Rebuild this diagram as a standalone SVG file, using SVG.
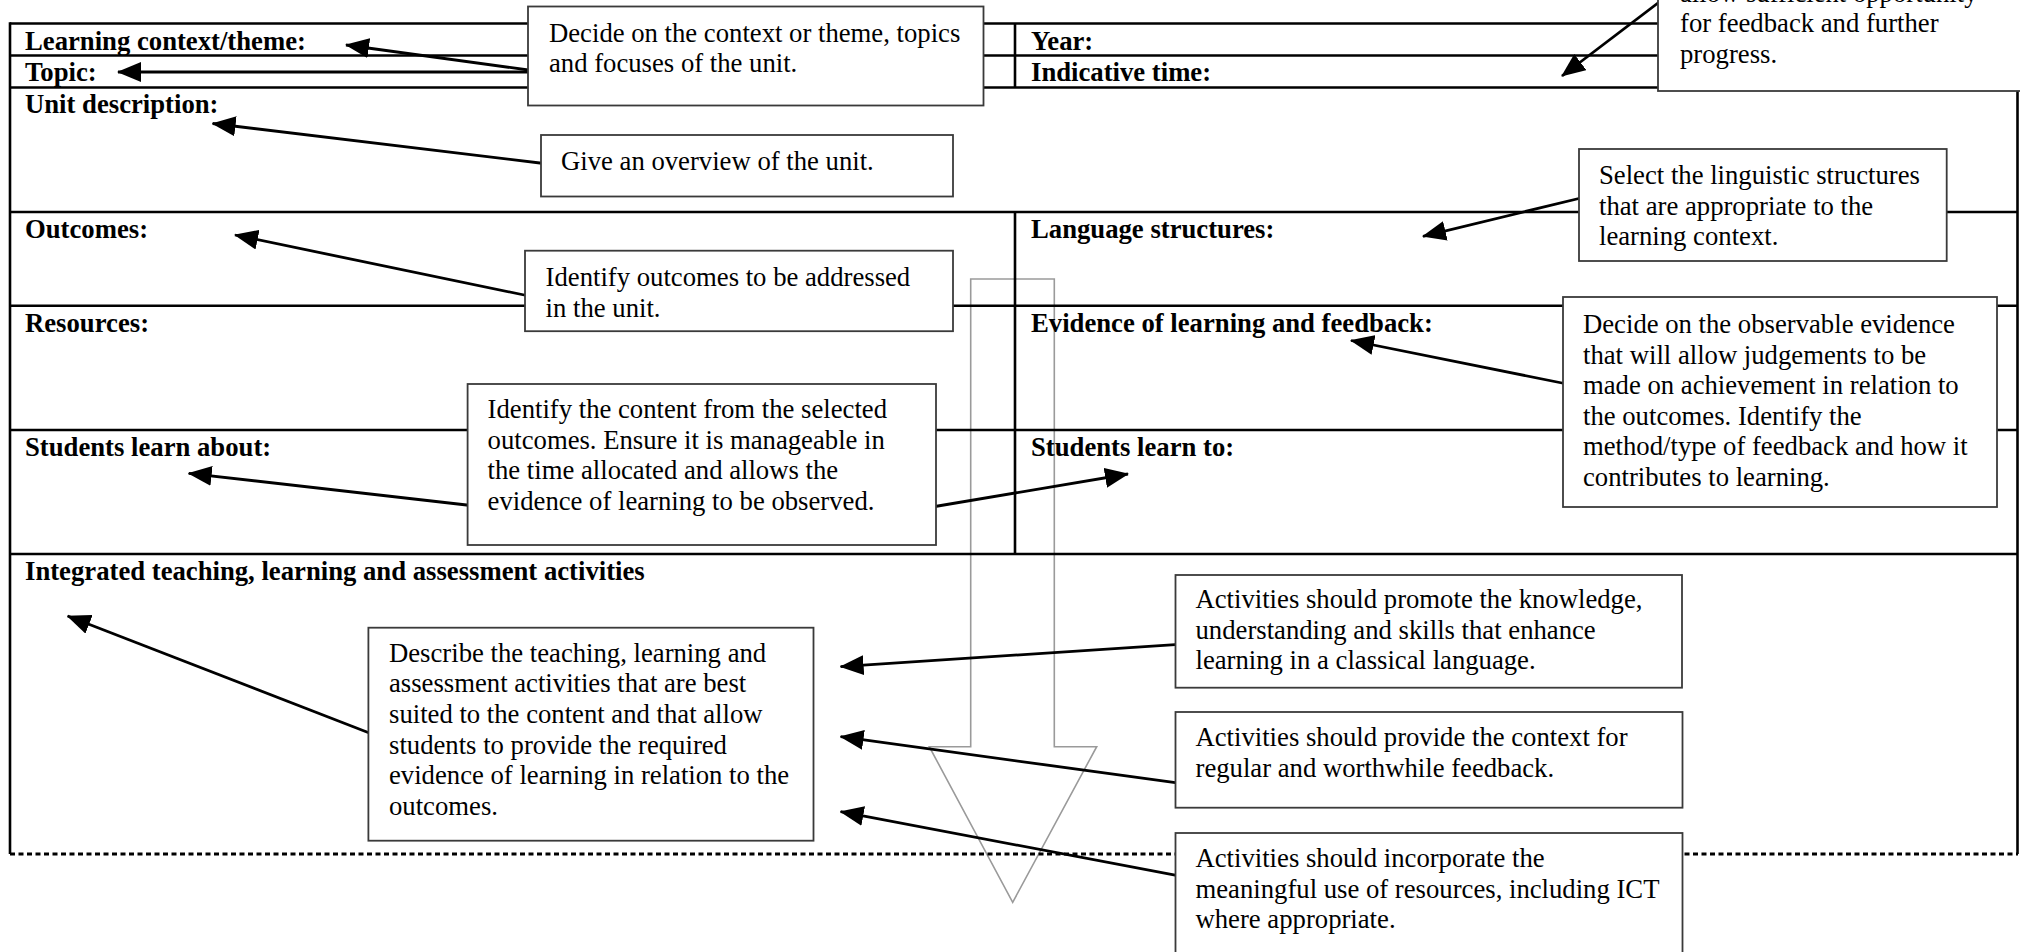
<svg xmlns="http://www.w3.org/2000/svg" width="2020" height="952" viewBox="0 0 2020 952">
  <defs>
    <style>
      text { font-family: "Liberation Serif", "Times New Roman", serif; font-size: 26.7px; fill: #000; }
      .lbl { font-weight: bold; }
      .grid { stroke: #000; stroke-width: 2.6; fill: none; }
      .dash { stroke: #000; stroke-width: 3; stroke-dasharray: 5 3.5; fill: none; }
      .box { fill: #fff; stroke: #3a3a3a; stroke-width: 1.8; }
      .conn { stroke: #000; stroke-width: 2.8; fill: none; marker-end: url(#head); }
      .flow { fill: none; stroke: #9a9a9a; stroke-width: 1.6; stroke-linejoin: miter; }
    </style>
    <marker id="head" markerUnits="userSpaceOnUse" viewBox="0 0 24 20" markerWidth="24" markerHeight="20" refX="23" refY="10" orient="auto">
      <path d="M0,0 L24,10 L0,20 z" fill="#000"/>
    </marker>
  </defs>

  <rect width="2020" height="952" fill="#fff"/>

  <!-- hollow downward flow arrow behind the form -->
  <g id="flow-arrow">
    <polygon class="flow" points="970.7,279 1054.3,279 1054.3,746.7 1096.7,746.7 1012.7,902.3 929.3,746.7 970.7,746.7"/>
  </g>

  <!-- unit plan form grid -->
  <g id="form-grid">
    <line class="grid" x1="10" y1="23.5" x2="2018" y2="23.5"/>
    <line class="grid" x1="10" y1="55.5" x2="2018" y2="55.5"/>
    <line class="grid" x1="10" y1="87.5" x2="2018" y2="87.5"/>
    <line class="grid" x1="10" y1="212" x2="2018" y2="212"/>
    <line class="grid" x1="10" y1="305.7" x2="2018" y2="305.7"/>
    <line class="grid" x1="10" y1="430" x2="2018" y2="430"/>
    <line class="grid" x1="10" y1="554" x2="2018" y2="554"/>
    <line class="grid" x1="10" y1="22.2" x2="10" y2="854"/>
    <line class="grid" x1="2017.5" y1="22.2" x2="2017.5" y2="854"/>
    <line class="grid" x1="1015" y1="23.5" x2="1015" y2="87.5"/>
    <line class="grid" x1="1015" y1="212" x2="1015" y2="554"/>
    <line class="dash" x1="10" y1="854" x2="2018" y2="854"/>
  </g>

  <!-- form field labels -->
  <g id="form-labels">
    <text id="lbl-context" class="lbl" x="25" y="49.5">Learning context/theme:</text>
    <text id="lbl-topic" class="lbl" x="25" y="81">Topic:</text>
    <text id="lbl-year" class="lbl" x="1031" y="49.5">Year:</text>
    <text id="lbl-time" class="lbl" x="1031" y="81">Indicative time:</text>
    <text id="lbl-description" class="lbl" x="25" y="113">Unit description:</text>
    <text id="lbl-outcomes" class="lbl" x="25" y="238">Outcomes:</text>
    <text id="lbl-structures" class="lbl" x="1031" y="238">Language structures:</text>
    <text id="lbl-resources" class="lbl" x="25" y="332">Resources:</text>
    <text id="lbl-evidence" class="lbl" x="1031" y="332">Evidence of learning and feedback:</text>
    <text id="lbl-learn-about" class="lbl" x="25" y="456">Students learn about:</text>
    <text id="lbl-learn-to" class="lbl" x="1031" y="456">Students learn to:</text>
    <text id="lbl-activities" class="lbl" x="25" y="580">Integrated teaching, learning and assessment activities</text>
  </g>

  <!-- pointers from each note to its field -->
  <g id="connectors">
    <line class="conn" x1="532" y1="70.5" x2="346" y2="45"/>
    <line class="conn" x1="532" y1="72" x2="118" y2="72"/>
    <line class="conn" x1="544" y1="163.5" x2="212.6" y2="123.5"/>
    <line class="conn" x1="529" y1="296" x2="235" y2="235"/>
    <line class="conn" x1="471" y1="505.5" x2="188.7" y2="473.3"/>
    <line class="conn" x1="932" y1="507" x2="1128" y2="474"/>
    <line class="conn" x1="1583" y1="197.5" x2="1423" y2="236.3"/>
    <line class="conn" x1="1567" y1="384" x2="1351" y2="340.5"/>
    <line class="conn" x1="1662" y1="0" x2="1562" y2="76"/>
    <line class="conn" x1="372" y1="734" x2="67.6" y2="616"/>
    <line class="conn" x1="1179" y1="644.3" x2="840.6" y2="666.7"/>
    <line class="conn" x1="1179" y1="783.2" x2="840.6" y2="736.7"/>
    <line class="conn" x1="1179" y1="875.8" x2="840.6" y2="811.7"/>
  </g>

  <g id="note-context">
    <rect class="box" x="528" y="6.5" width="455.5" height="99"/>
    <text><tspan x="549" y="41.5">Decide on the context or theme, topics</tspan><tspan x="549" y="72">and focuses of the unit.</tspan></text>
  </g>

  <g id="note-time">
    <rect class="box" x="1658" y="-40" width="400" height="131"/>
    <text><tspan x="1680" y="1.5">allow sufficient opportunity</tspan><tspan x="1680" y="32">for feedback and further</tspan><tspan x="1680" y="62.6">progress.</tspan></text>
  </g>

  <g id="note-description">
    <rect class="box" x="541" y="135" width="412" height="61.5"/>
    <text x="561" y="170">Give an overview of the unit.</text>
  </g>

  <g id="note-structures">
    <rect class="box" x="1579" y="149" width="367.7" height="112"/>
    <text><tspan x="1599" y="184">Select the linguistic structures</tspan><tspan x="1599" y="214.6">that are appropriate to the</tspan><tspan x="1599" y="245.2">learning context.</tspan></text>
  </g>

  <g id="note-outcomes">
    <rect class="box" x="525" y="250.7" width="428" height="80.5"/>
    <text><tspan x="545.6" y="286">Identify outcomes to be addressed</tspan><tspan x="545.6" y="316.5">in the unit.</tspan></text>
  </g>

  <g id="note-evidence">
    <rect class="box" x="1563" y="297" width="434" height="210"/>
    <text><tspan x="1583" y="333">Decide on the observable evidence</tspan><tspan x="1583" y="363.6">that will allow judgements to be</tspan><tspan x="1583" y="394.2">made on achievement in relation to</tspan><tspan x="1583" y="424.8">the outcomes. Identify the</tspan><tspan x="1583" y="455.4">method/type of feedback and how it</tspan><tspan x="1583" y="486">contributes to learning.</tspan></text>
  </g>

  <g id="note-content">
    <rect class="box" x="467.6" y="384" width="468.4" height="161"/>
    <text><tspan x="487.6" y="418">Identify the content from the selected</tspan><tspan x="487.6" y="448.6">outcomes. Ensure it is manageable in</tspan><tspan x="487.6" y="479.2">the time allocated and allows the</tspan><tspan x="487.6" y="509.8">evidence of learning to be observed.</tspan></text>
  </g>

  <g id="note-activities">
    <rect class="box" x="368.4" y="627.7" width="445.1" height="213"/>
    <text><tspan x="389" y="661.7">Describe the teaching, learning and</tspan><tspan x="389" y="692.3">assessment activities that are best</tspan><tspan x="389" y="722.9">suited to the content and that allow</tspan><tspan x="389" y="753.5">students to provide the required</tspan><tspan x="389" y="784.1">evidence of learning in relation to the</tspan><tspan x="389" y="814.7">outcomes.</tspan></text>
  </g>

  <g id="note-knowledge">
    <rect class="box" x="1175.5" y="575" width="506.5" height="112.7"/>
    <text><tspan x="1195.5" y="608">Activities should promote the knowledge,</tspan><tspan x="1195.5" y="638.6">understanding and skills that enhance</tspan><tspan x="1195.5" y="669.2">learning in a classical language.</tspan></text>
  </g>

  <g id="note-feedback">
    <rect class="box" x="1175.5" y="712" width="507" height="95.7"/>
    <text><tspan x="1195.5" y="746">Activities should provide the context for</tspan><tspan x="1195.5" y="776.6">regular and worthwhile feedback.</tspan></text>
  </g>

  <g id="note-resources">
    <rect class="box" x="1175.5" y="833" width="507" height="140"/>
    <text><tspan x="1195.5" y="867">Activities should incorporate the</tspan><tspan x="1195.5" y="897.6">meaningful use of resources, including ICT</tspan><tspan x="1195.5" y="928.2">where appropriate.</tspan></text>
  </g>
</svg>
